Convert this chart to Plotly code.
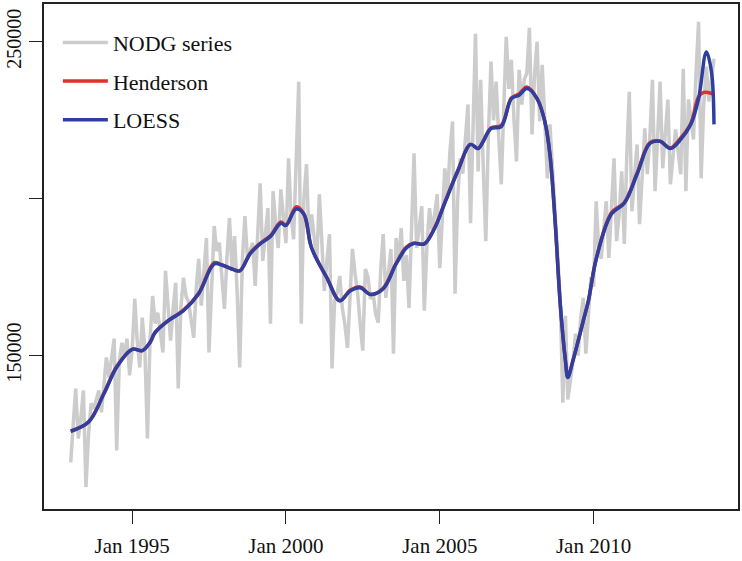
import pandas as pd
import plotly.graph_objects as go

# ---- data (values in thousands) ----
start_month = "1993-01-01"
n_months = 252

nodg_k = [
    116.0, 128, 139.5, 123.6, 130, 138.9, 108.1, 125, 134.8, 133,
    136, 138.9, 131.9, 140, 149.4, 143, 150, 155.4, 119.8, 148,
    154.1, 150, 155.4, 143.7, 152, 168.1, 155, 146.2, 162.1, 152,
    123.6, 155, 169.0, 160.2, 163.7, 158, 151.0, 177.0, 165, 154.8,
    165, 173.2, 139.5, 165, 174.8, 169, 167, 162, 155.7, 172,
    180.8, 165.9, 175, 187.5, 151.0, 175, 191.3, 183.3, 186, 175,
    164.9, 182, 193.8, 177, 188.1, 170, 146.2, 180, 194.5, 180.8,
    183, 185.9, 172.2, 190, 204.9, 180.2, 190, 197.0, 160.2, 202.4,
    192, 184.3, 203.0, 195, 185.9, 212.9, 195, 187.1, 215, 237.3,
    160.2, 200, 211.0, 186.5, 195, 188, 180.2, 201.4, 185, 170.6,
    180, 188.7, 145.9, 167.5, 170, 175.4, 165, 160, 152.5, 170,
    184.0, 176, 170, 160, 151.6, 177.6, 175, 168, 170, 163.3,
    160.5, 178, 188.7, 168.4, 175, 184.0, 150.6, 187.5, 180, 190.6,
    173.8, 182, 165.2, 195, 214.5, 184.3, 190, 197.6, 164.3, 185,
    197.0, 190, 195, 201.4, 177.9, 195, 209.7, 200, 215, 224.6,
    169.7, 200, 212.9, 208, 220, 230.0, 192.2, 230, 252.6, 208.7,
    237.9, 210, 186.5, 220, 243.7, 225, 237.3, 220, 204.6, 230,
    251.6, 235, 244.3, 225, 211.9, 241.1, 230, 238, 240, 254.5,
    220.5, 240, 250.0, 224.6, 242.7, 225, 206.5, 223.7, 210, 196,
    185, 168, 135, 162.7, 136, 142, 148, 157.0, 150, 162,
    168.4, 150.6, 165, 175, 172, 199.2, 185, 180.8, 190, 199.2,
    181.1, 195, 212.9, 186.5, 195, 208.7, 185.6, 215, 234.1, 196.0,
    205, 217.3, 191.9, 210, 222.4, 207.8, 220, 237.9, 202.4, 220,
    237.3, 209.7, 220, 231.6, 204.6, 215, 222.1, 215, 207.8, 241.4,
    202.4, 231.6, 225, 218.9, 240, 256.4, 206.5, 230, 242.1, 231.0,
    238, 244.6,
]

# trend curves: month index (from Jan 1993) and value (thousands)
loess_m = [0, 7, 13, 18, 24, 28, 31, 33, 38, 44, 50, 56, 59, 63, 66, 70, 74, 78,
           82, 84, 88, 91, 94, 100, 105, 109, 113, 117, 122, 127, 131, 134, 138,
           142, 146, 151, 156, 159, 161, 164, 168, 172, 175, 178, 182, 185, 187,
           189, 191, 193, 194, 196, 200, 202, 205, 211, 216, 221, 226, 230, 234,
           238, 242, 245, 248, 250, 251]
loess_k = [125.9, 128.8, 137.9, 146.3, 152.0, 151.6, 154.2, 157.4, 161.1, 164.3,
           169.7, 179.2, 178.9, 177.6, 177.0, 182.4, 185.6, 188.0, 192.2, 191.5,
           196.7, 195.1, 184.3, 174.8, 167.5, 170.6, 171.6, 169.5, 171.3, 179.2,
           184.3, 185.8, 185.6, 190.6, 198.6, 208.7, 217.3, 216.0, 218.3, 222.4,
           223.0, 231.9, 233.0, 235.1, 231.9, 224.6, 214.1, 192.9, 166.5, 148.4,
           143.0, 148.4, 161.1, 167.5, 180.8, 195.1, 198.6, 207.8, 217.6, 218.3,
           216.0, 218.9, 223.7, 231.9, 246.8, 240.5, 223.7]

hend_m = [0, 7, 13, 18, 24, 28, 31, 33, 38, 44, 50, 56, 59, 63, 66, 70, 74, 78,
          82, 84, 88, 91, 94, 100, 105, 109, 113, 117, 122, 127, 131, 134, 138,
          142, 146, 151, 156, 159, 161, 164, 168, 172, 175, 178, 182, 185, 187,
          189, 191, 193, 194, 196, 200, 202, 205, 211, 216, 221, 226, 230, 234,
          238, 242, 245, 247, 249, 251]
hend_k = [125.9, 128.8, 138.1, 146.5, 152.0, 151.6, 154.2, 157.4, 161.1, 164.5,
          169.9, 179.6, 178.9, 177.6, 177.0, 182.6, 185.8, 188.2, 192.6, 191.5,
          197.4, 195.1, 184.3, 174.8, 167.5, 170.8, 171.9, 169.5, 171.5, 179.4,
          184.6, 185.8, 185.6, 190.8, 198.8, 208.9, 217.3, 216.0, 218.3, 222.6,
          223.4, 232.1, 233.4, 235.6, 231.9, 224.6, 214.1, 192.9, 166.5, 148.4,
          143.3, 148.4, 161.1, 167.5, 180.8, 195.5, 198.8, 208.1, 217.9, 218.3,
          216.2, 219.4, 224.0, 232.5, 233.9, 233.8, 233.3]

y_tick_vals = [150000, 200000, 250000]
y_tick_text = ["150000", "", "250000"]
x_tick_vals = ["1995-01-01", "2000-01-01", "2005-01-01", "2010-01-01"]
x_tick_text = ["Jan 1995", "Jan 2000", "Jan 2005", "Jan 2010"]

# ---- build ----
dates = pd.date_range(start_month, periods=n_months, freq="MS")
nodg = [v * 1000 for v in nodg_k]
loess_x = [dates[m] for m in loess_m]
loess_y = [v * 1000 for v in loess_k]
hend_x = [dates[m] for m in hend_m]
hend_y = [v * 1000 for v in hend_k]

FONT = "Liberation Serif"
GRAY = "#cccccc"
RED = "#e0302a"
BLUE = "#2e3fa0"

fig = go.Figure()
fig.add_trace(go.Scatter(x=dates, y=nodg, mode="lines", name="NODG series",
                         line=dict(color=GRAY, width=3.5), legendgroup="a"))
fig.add_trace(go.Scatter(x=hend_x, y=hend_y, mode="lines", name="Henderson",
                         line=dict(color=RED, width=3.5, shape="spline", smoothing=1.0),
                         legendgroup="b"))
fig.add_trace(go.Scatter(x=loess_x, y=loess_y, mode="lines", name="LOESS",
                         line=dict(color=BLUE, width=3.5, shape="spline", smoothing=1.0),
                         legendgroup="c"))

fig.update_layout(
    width=742, height=561,
    margin=dict(l=44, r=3, t=2, b=52),
    plot_bgcolor="white", paper_bgcolor="white",
    font=dict(family=FONT, size=20, color="#111111"),
    showlegend=True,
    legend=dict(x=0.020, y=0.965, xanchor="left", yanchor="top",
                bgcolor="rgba(0,0,0,0)", borderwidth=0, itemwidth=45,
                tracegroupgap=7, font=dict(family=FONT, size=22, color="#111111")),
)
fig.update_xaxes(
    range=["1992-02-19", "2014-09-12"],
    tickmode="array", tickvals=x_tick_vals, ticktext=x_tick_text,
    ticks="outside", ticklen=13, tickwidth=1, tickcolor="#222222",
    ticklabelstandoff=4,
    showline=True, linecolor="#222222", linewidth=1.5, mirror=True,
    showgrid=False, zeroline=False,
    tickfont=dict(family=FONT, size=21, color="#111111"),
)
fig.update_yaxes(
    range=[101111, 262063],
    tickmode="array", tickvals=y_tick_vals, ticktext=y_tick_text,
    tickangle=-90,
    ticks="outside", ticklen=13, tickwidth=1, tickcolor="#222222",
    showline=True, linecolor="#222222", linewidth=1.5, mirror=True,
    showgrid=False, zeroline=False,
    tickfont=dict(family=FONT, size=20, color="#111111"),
)

fig.write_html("out.html")
